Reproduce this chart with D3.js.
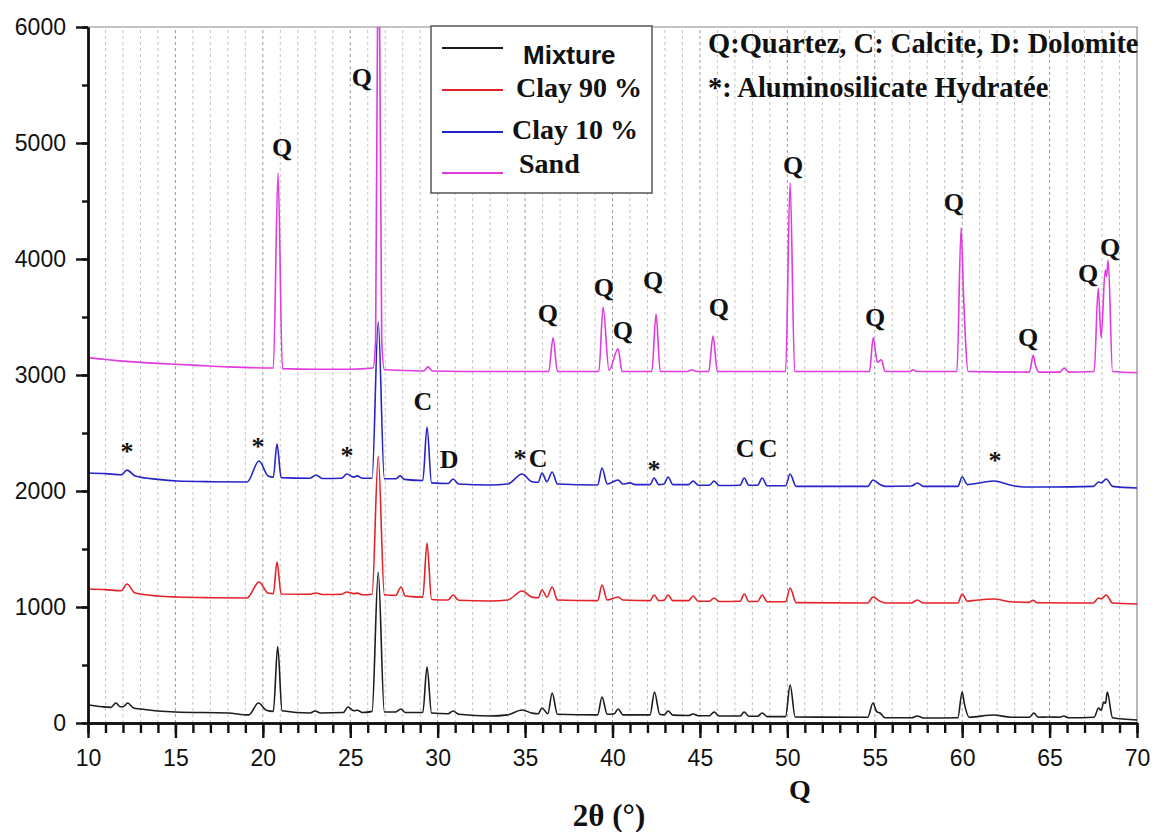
<!DOCTYPE html>
<html>
<head>
<meta charset="utf-8">
<script src="https://cdn.jsdelivr.net/npm/d3@7"></script>
<style>
  body { margin: 0; background: #fff; }
  svg { display: block; }
  .tick text { font-family: "Liberation Sans", Arial, sans-serif; font-size: 23px; fill: #111; }
  .lbl { font-family: "Liberation Serif", "Times New Roman", serif; font-weight: bold; fill: #111; }
</style>
</head>
<body>
<script>
// XRD patterns, [2theta, counts]
var mixturePts = [
  [10, 155], [10.8, 140], [11.3, 135], [11.6, 172], [11.85, 140], [12.0, 140], [12.27, 172], [12.6, 130],
  [13, 121], [15, 95], [18, 86], [19.2, 70], [19.75, 172], [20.2, 110], [20.6, 100], [20.85, 660],
  [21.1, 105], [22.7, 86], [22.99, 103], [23.3, 86], [24.6, 90], [24.87, 138], [25.2, 105], [25.4, 110],
  [25.7, 90], [26.25, 100], [26.6, 1300], [26.95, 95], [27.6, 95], [27.9, 121], [28.15, 90], [29.15, 90],
  [29.39, 483], [29.65, 86], [30.6, 80], [30.88, 103], [31.2, 75], [33, 60], [34.0, 70], [34.83, 112],
  [35.4, 85], [35.75, 80], [35.97, 129], [36.3, 80], [36.55, 259], [36.85, 75], [39.15, 70], [39.4, 224],
  [39.7, 75], [40.1, 80], [40.32, 121], [40.6, 70], [42.15, 70], [42.4, 267], [42.7, 75], [42.95, 70],
  [43.18, 103], [43.45, 68], [44.35, 65], [44.61, 78], [44.9, 63], [45.55, 63], [45.81, 95], [46.1, 60],
  [47.3, 60], [47.53, 95], [47.8, 58], [48.3, 58], [48.56, 86], [48.85, 55], [49.9, 55], [50.16, 328],
  [50.45, 52], [54.6, 50], [54.9, 172], [55.1, 100], [55.3, 86], [55.6, 45], [57.1, 45], [57.43, 60],
  [57.8, 43], [59.75, 45], [60.0, 267], [60.12, 172], [60.4, 50], [61.8, 69], [62.8, 50], [63.85, 50],
  [64.1, 86], [64.35, 50], [64.9, 52], [65.6, 50], [65.8, 60], [66.1, 45], [67.55, 50], [67.8, 129],
  [67.95, 110], [68.1, 181], [68.2, 170], [68.3, 267], [68.6, 45], [70, 26]
];

var clay90Pts = [
  [10, 1155], [11, 1150], [11.9, 1140], [12.23, 1198], [12.7, 1120], [14, 1095], [15.1, 1086], [17, 1080],
  [19.1, 1078], [19.78, 1216], [20.3, 1120], [20.6, 1115], [20.81, 1388], [21.05, 1112], [22.7, 1110],
  [23.04, 1121], [23.4, 1108], [24.5, 1110], [24.8, 1129], [25.2, 1115], [25.4, 1120], [25.7, 1105],
  [26.25, 1110], [26.6, 2300], [26.95, 1105], [27.6, 1100], [27.9, 1172], [28.15, 1095], [29.15, 1085],
  [29.39, 1552], [29.65, 1065], [30.6, 1060], [30.88, 1103], [31.2, 1058], [33, 1052], [34.0, 1060],
  [34.83, 1138], [35.4, 1085], [35.75, 1080], [35.97, 1147], [36.25, 1085], [36.55, 1172], [36.85, 1060],
  [39.15, 1055], [39.4, 1190], [39.7, 1060], [40.32, 1086], [40.6, 1060], [42.15, 1055], [42.38, 1103],
  [42.65, 1055], [42.95, 1058], [43.18, 1103], [43.45, 1055], [44.35, 1055], [44.61, 1095], [44.9, 1050],
  [45.55, 1050], [45.81, 1078], [46.1, 1048], [47.3, 1050], [47.53, 1112], [47.8, 1048], [48.3, 1048],
  [48.56, 1103], [48.85, 1045], [49.9, 1045], [50.16, 1164], [50.5, 1038], [54.6, 1035], [54.9, 1086],
  [55.3, 1050], [55.6, 1035], [57.1, 1035], [57.43, 1060], [57.8, 1034], [59.75, 1035], [60.0, 1112],
  [60.3, 1050], [60.6, 1055], [61.8, 1069], [62.8, 1045], [63.8, 1040], [64.05, 1058], [64.3, 1036],
  [67.5, 1035], [67.8, 1078], [67.95, 1070], [68.24, 1103], [68.6, 1035], [70, 1026]
];

var clay10Pts = [
  [10, 2155], [11, 2150], [11.9, 2140], [12.23, 2180], [12.7, 2130], [14, 2100], [15.1, 2086], [17, 2080],
  [19.1, 2078], [19.78, 2258], [20.3, 2130], [20.6, 2120], [20.81, 2405], [21.05, 2115], [22.7, 2110],
  [23.04, 2138], [23.4, 2108], [24.5, 2110], [24.8, 2146], [25.2, 2120], [25.4, 2130], [25.7, 2110],
  [26.25, 2110], [26.6, 3457], [26.95, 2105], [27.6, 2105], [27.85, 2130], [28.1, 2100], [29.15, 2090],
  [29.39, 2552], [29.65, 2070], [30.6, 2065], [30.88, 2103], [31.2, 2060], [33, 2052], [34.0, 2060],
  [34.83, 2146], [35.4, 2080], [35.75, 2075], [35.97, 2155], [36.25, 2080], [36.55, 2164], [36.85, 2060],
  [39.15, 2052], [39.4, 2198], [39.7, 2060], [40.32, 2095], [40.6, 2060], [41.0, 2070], [41.3, 2055],
  [42.15, 2055], [42.38, 2112], [42.65, 2055], [42.95, 2060], [43.18, 2121], [43.45, 2055], [44.35, 2055],
  [44.61, 2086], [44.9, 2050], [45.55, 2050], [45.81, 2086], [46.1, 2048], [47.3, 2050], [47.53, 2112],
  [47.8, 2050], [48.3, 2050], [48.56, 2112], [48.85, 2045], [49.9, 2045], [50.16, 2146], [50.5, 2040],
  [54.6, 2040], [54.9, 2095], [55.3, 2055], [55.6, 2040], [57.1, 2043], [57.43, 2069], [57.8, 2040],
  [59.75, 2040], [60.0, 2121], [60.3, 2055], [60.6, 2060], [61.8, 2086], [62.8, 2050], [63.5, 2035],
  [65, 2035], [67.5, 2040], [67.8, 2078], [67.95, 2070], [68.24, 2103], [68.6, 2040], [70, 2026]
];

var sandPts = [
  [10, 3150], [12, 3120], [14, 3100], [16, 3085], [18, 3070], [20.6, 3060], [20.87, 4740], [21.12, 3055],
  [23, 3050], [25, 3050], [26.3, 3060], [26.45, 3300], [26.56, 6000], [26.62, 12000], [26.68, 6000],
  [26.8, 3300], [26.95, 3045], [29.2, 3035], [29.45, 3070],
  [29.7, 3035], [33, 3030], [36.35, 3030], [36.6, 3320], [36.85, 3030], [39.22, 3030], [39.46, 3585],
  [39.8, 3040], [40.32, 3225], [40.55, 3030], [42.25, 3030], [42.49, 3525], [42.73, 3030], [44.3, 3030],
  [44.55, 3045], [44.8, 3030], [45.5, 3030], [45.75, 3335], [46.0, 3030], [49.9, 3030], [50.16, 4655],
  [50.42, 3030], [54.7, 3030], [54.91, 3320], [55.15, 3110], [55.37, 3130], [55.6, 3030], [57.0, 3030],
  [57.2, 3045], [57.4, 3030], [59.7, 3030], [59.94, 4270], [60.08, 3680], [60.35, 3030], [63.85, 3025],
  [64.06, 3170], [64.2, 3080], [64.4, 3025], [65.6, 3025], [65.84, 3060], [66.1, 3025], [67.55, 3030],
  [67.78, 3750], [67.95, 3320], [68.18, 3905], [68.26, 3850], [68.35, 3990], [68.6, 3030], [70, 3020]
];

var seriesNames = ["Mixture", "Clay 90 %", "Clay 10 %", "Sand"];
var seriesColors = ["#1c1c1c", "#e3222a", "#2424c8", "#e03ae0"];
var seriesData = [mixturePts, clay90Pts, clay10Pts, sandPts];

// peak labels: [text, 2theta, counts at text baseline]
var quartzLabels = [
  ["Q", 25.67, 5491], ["Q", 21.10, 4888], ["Q", 36.31, 3457], ["Q", 39.51, 3681], ["Q", 40.60, 3310],
  ["Q", 42.32, 3741], ["Q", 46.09, 3509], ["Q", 50.33, 4733], ["Q", 55.02, 3422], ["Q", 59.53, 4414],
  ["Q", 63.77, 3250], ["Q", 67.20, 3802], ["Q", 68.46, 4026]
];
var phaseLabels = [
  ["*", 12.23, 2267], ["*", 19.72, 2310], ["*", 24.81, 2233], ["C", 29.16, 2698], ["D", 30.65, 2198],
  ["*", 34.71, 2207], ["C", 35.74, 2207], ["*", 42.37, 2112], ["C", 47.58, 2293], ["C", 48.90, 2293],
  ["*", 61.88, 2190]
];

var W = 1153, H = 832;
var svg = d3.select("body").append("svg")
  .attr("width", W)
  .attr("height", H);

var x = d3.scaleLinear().domain([10, 70]).range([88, 1137]);
var y = d3.scaleLinear().domain([0, 6000]).range([723, 27]);

svg.append("defs").append("clipPath").attr("id", "plotClip")
  .append("rect")
  .attr("x", x(10)).attr("y", y(6000))
  .attr("width", x(70) - x(10)).attr("height", y(0) - y(6000));

// dotted vertical grid, one line per degree
svg.append("g").selectAll("line")
  .data(d3.range(11, 70))
  .enter().append("line")
  .attr("x1", function(d) { return x(d); })
  .attr("x2", function(d) { return x(d); })
  .attr("y1", y(0))
  .attr("y2", y(6000))
  .style("stroke", function(d) { return d % 5 === 0 ? "#9a9a9a" : "#c4c4c4"; })
  .style("stroke-width", 1)
  .style("stroke-dasharray", "3,3");

// thin frame on top and right
svg.append("path")
  .attr("d", "M" + x(10) + "," + y(6000) + "H" + x(70) + "V" + y(0))
  .style("fill", "none")
  .style("stroke", "#888")
  .style("stroke-width", 1.2);

var line = d3.line()
  .x(function(d) { return x(d[0]); })
  .y(function(d) { return y(d[1]); })
  .curve(d3.curveMonotoneX);

svg.append("g").attr("clip-path", "url(#plotClip)")
  .selectAll("path")
  .data(seriesData)
  .enter().append("path")
  .attr("d", line)
  .style("fill", "none")
  .style("stroke", function(d, i) { return seriesColors[i]; })
  .style("stroke-width", 1.6)
  .style("stroke-linejoin", "round");

// peak labels
svg.append("g").selectAll("text")
  .data(quartzLabels.concat(phaseLabels))
  .enter().append("text")
  .attr("class", "lbl")
  .attr("x", function(d) { return x(d[1]); })
  .attr("y", function(d) { return y(d[2]); })
  .attr("text-anchor", "middle")
  .style("font-size", "26px")
  .text(function(d) { return d[0]; });

// legend
var legend = svg.append("g");
legend.append("rect")
  .attr("x", 431).attr("y", 26)
  .attr("width", 221).attr("height", 167)
  .style("fill", "#fff")
  .style("stroke", "#555")
  .style("stroke-width", 1.5);

var legendRows = [48, 90, 132, 173];
var legendText = [[523, 64], [516, 97], [512, 139], [519, 173]];
seriesNames.forEach(function(name, i) {
  legend.append("line")
    .attr("x1", 442).attr("x2", 503)
    .attr("y1", legendRows[i]).attr("y2", legendRows[i])
    .style("stroke", seriesColors[i])
    .style("stroke-width", 1.8);
  var t = legend.append("text")
    .attr("x", legendText[i][0])
    .attr("y", legendText[i][1])
    .style("font-weight", "bold")
    .style("fill", "#111")
    .text(name);
  if (i === 0) {
    t.style("font-family", "'Liberation Sans', Arial, sans-serif").style("font-size", "26px");
  } else {
    t.style("font-family", "'Liberation Serif', 'Times New Roman', serif").style("font-size", "28px");
  }
});

// phase key
svg.append("text").attr("class", "lbl")
  .attr("x", 708).attr("y", 53)
  .style("font-size", "28.5px")
  .text("Q:Quartez, C: Calcite, D: Dolomite");
svg.append("text").attr("class", "lbl")
  .attr("x", 708).attr("y", 97)
  .style("font-size", "28.5px")
  .text("*: Aluminosilicate Hydratée");

// axis title and the stray Q under the axis
svg.append("text").attr("class", "lbl")
  .attr("x", 609).attr("y", 826)
  .attr("text-anchor", "middle")
  .style("font-size", "31px")
  .text("2θ (°)");
svg.append("text").attr("class", "lbl")
  .attr("x", 800).attr("y", 799)
  .attr("text-anchor", "middle")
  .style("font-size", "28px")
  .text("Q");

// axes last; each tick gets a stroked path so the marks always paint
var xMinor = d3.axisBottom(x).tickValues(d3.range(10, 71, 1)).tickSize(10).tickSizeOuter(0).tickFormat(function() { return ""; });
var xMajor = d3.axisBottom(x).tickValues(d3.range(10, 71, 5)).tickSize(15).tickSizeOuter(0).tickPadding(12);
var yMinor = d3.axisLeft(y).tickValues(d3.range(0, 6001, 500)).tickSize(6).tickSizeOuter(0).tickFormat(function() { return ""; });
var yMajor = d3.axisLeft(y).tickValues(d3.range(0, 6001, 1000)).tickSize(12).tickSizeOuter(0).tickPadding(10).tickFormat(d3.format("d"));

function drawAxis(ax, transform, mark) {
  var g = svg.append("g").attr("transform", transform).call(ax);
  g.selectAll(".tick line").remove();
  g.selectAll(".tick").append("path")
    .attr("d", mark)
    .attr("fill", "none")
    .attr("stroke", "#111")
    .attr("stroke-width", 2.4);
  g.select(".domain").attr("stroke", "#111").attr("stroke-width", 2.4);
  return g;
}
drawAxis(xMinor, "translate(0," + y(0) + ")", "M0,0V10");
drawAxis(xMajor, "translate(0," + y(0) + ")", "M0,0V15");
drawAxis(yMinor, "translate(" + x(10) + ",0)", "M0,0H-6");
drawAxis(yMajor, "translate(" + x(10) + ",0)", "M0,0H-12");
</script>
</body>
</html>
